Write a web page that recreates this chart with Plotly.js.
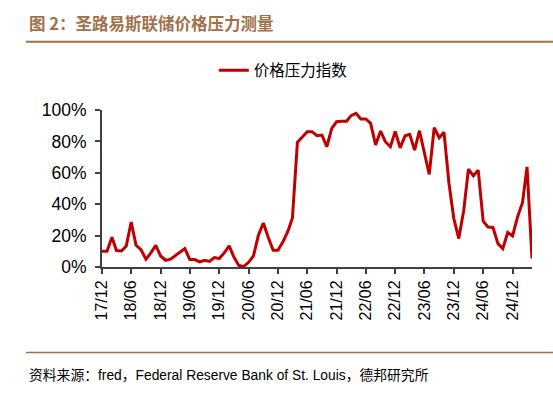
<!DOCTYPE html>
<html>
<head>
<meta charset="utf-8">
<script src="https://cdn.plot.ly/plotly-3.0.1.min.js"></script>
<style>html,body{margin:0;padding:0;background:#fff;}#chart{width:553px;height:398px;}</style>
</head>
<body>
<div id="chart"></div>
<script>
const startMonth = "2017-12-01";
const seriesName = "价格压力指数";
const values = [
  10,
  10, 19, 10.5, 10.2, 13.4, 28.7, 13.8, 11, 4.9, 9, 13.8, 7,
  4.3, 5, 7, 9, 11.7, 4.7, 4.7, 3.2, 4.3, 3.6, 6, 5.4,
  9, 13.4, 6.4, 1, 0.3, 3, 7, 20.2, 28, 19, 10.6, 10.6,
  16, 22.8, 31.3, 79.4, 83, 86.2, 86.2, 83.6, 84, 76.6, 88.3, 92.5,
  92.9, 92.9, 96.4, 97.9, 94.3, 94.3, 91.5, 77.7, 86.6, 79.8, 76.6, 86.4,
  75.9, 83.6, 84.5, 74.5, 86.8, 72.4, 59, 88.7, 82.3, 85.8, 53.2, 30.9,
  18.1, 36.2, 62.3, 58.1, 61.7, 29.2, 25.5, 25.2, 14.9, 11.7, 22, 19.8,
  31.9, 41.1, 63.8, 5.4
];
const yTicks = [0, 20, 40, 60, 80, 100];
const yTickLabels = ["0%", "20%", "40%", "60%", "80%", "100%"];
const titleText = "图 2：圣路易斯联储价格压力测量";
const sourceText = "资料来源：fred，Federal Reserve Bank of St. Louis，德邦研究所";

function monthStr(i) {
  const y = 2017 + Math.floor((11 + i) / 12);
  const m = ((11 + i) % 12) + 1;
  return y + "-" + String(m).padStart(2, "0") + "-01";
}
const dates = values.map((_, i) => monthStr(i));

const brown = "#A0724A";
const font = "Liberation Sans, Arial, sans-serif";

Plotly.newPlot("chart", [{
  x: dates, y: values, type: "scatter", mode: "lines", name: seriesName,
  line: {color: "#C00000", width: 3}
}], {
  width: 553, height: 398,
  margin: {l: 102, r: 21, t: 110, b: 131},
  paper_bgcolor: "#fff", plot_bgcolor: "#fff",
  showlegend: true,
  legend: {x: 0.26, xanchor: "left", y: 1.25, yanchor: "middle", orientation: "h",
           font: {family: "Noto Sans CJK SC, sans-serif", size: 15.5, color: "#000"}},
  xaxis: {
    type: "date", range: [dates[0], dates[dates.length - 1]],
    tick0: startMonth, dtick: "M6", tickformat: "%y/%m", tickangle: -90,
    showgrid: false, zeroline: false, showline: true, linecolor: "#404040", linewidth: 2,
    ticks: "outside", ticklen: 5, tickcolor: "#404040", tickwidth: 2,
    tickfont: {family: font, size: 16, color: "#000"}
  },
  yaxis: {
    range: [0, 100], tickvals: yTicks, ticktext: yTickLabels,
    showgrid: false, zeroline: false, showline: true, linecolor: "#404040", linewidth: 2,
    ticks: "outside", ticklen: 5, tickcolor: "#404040", tickwidth: 2, ticklabelstandoff: 5,
    tickfont: {family: font, size: 17.5, color: "#000"}
  },
  shapes: [
    {type: "line", xref: "paper", yref: "paper", x0: -76/430, x1: 451/430,
     y0: (266.7 - 42) / 156.7, y1: (266.7 - 42) / 156.7, line: {color: brown, width: 2}},
    {type: "line", xref: "paper", yref: "paper", x0: -76/430, x1: 451/430,
     y0: (266.7 - 352) / 156.7, y1: (266.7 - 352) / 156.7, line: {color: brown, width: 1.5}}
  ],
  annotations: [
    {text: "<b>" + titleText + "</b>", xref: "paper", yref: "paper",
     x: -75/430, y: (266.7 - 23) / 156.7, xanchor: "left", yanchor: "middle", showarrow: false,
     font: {family: "Noto Sans CJK SC, sans-serif", size: 16.5, color: brown}},
    {text: sourceText, xref: "paper", yref: "paper",
     x: -75/430, y: (266.7 - 375) / 156.7, xanchor: "left", yanchor: "middle", showarrow: false,
     font: {family: "Liberation Sans, Noto Sans CJK SC, sans-serif", size: 13.8, color: "#000"}}
  ]
}, {displayModeBar: false, staticPlot: true});
</script>
</body>
</html>
